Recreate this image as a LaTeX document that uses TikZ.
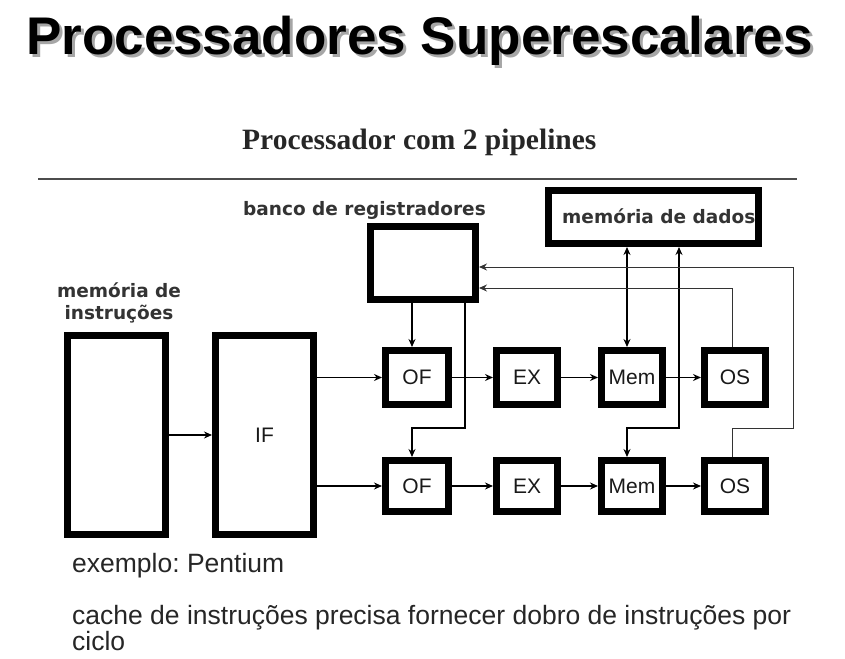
\documentclass[tikz,border=0pt]{standalone}
\usepackage{fontspec}
\setmainfont{Liberation Sans}
\newfontfamily\timesfont{Liberation Serif}
\newfontfamily\verdfont{DejaVu Sans}
\usetikzlibrary{arrows.meta,calc}
\frenchspacing
\begin{document}
\begin{tikzpicture}[x=1pt,y=-1pt,
  blk/.style={draw=black, line width=7pt, fill=white, inner sep=0pt,
    font=\fontsize{21}{21}\selectfont, text=black!90},
  conn/.style={line width=1.4pt, draw=black, -{Stealth[length=8pt,width=7pt]}},
  dconn/.style={line width=1.4pt, draw=black, {Stealth[length=8pt,width=7pt]}-{Stealth[length=8pt,width=7pt]}},
  thconn/.style={line width=1pt, draw=black!80, -{Stealth[length=8pt,width=7pt]}},
  boldlbl/.style={font=\verdfont\bfseries\fontsize{18.5}{22}\selectfont, text=black!80, inner sep=0pt},
  bodytxt/.style={font=\fontsize{26.5}{26}\selectfont, text=black!85, inner sep=0pt, anchor=base west}]
\useasboundingbox (0,0) rectangle (845,658);
\fill[white] (0,0) rectangle (845,658);

% title with shadow (one node)
\node[anchor=base west, inner sep=0, font=\bfseries\fontsize{53}{53}\selectfont] (title) at (26,55)
  {\rlap{\hspace{3pt}\raisebox{-3pt}{\color{black!35}Processadores Superescalares}}Processadores Superescalares};

% subtitle and rule
\node[anchor=base west, inner sep=0, font=\timesfont\bfseries\fontsize{29.5}{29.5}\selectfont, text=black!85] (sub) at (242,149) {Processador com 2 pipelines};
\coordinate (ruleA) at (38,179);
\coordinate (ruleB) at (797,179);
\draw[line width=2pt, black!70] (ruleA) -- (ruleB);

% labels
\node[boldlbl, anchor=base west] (reglbl) at (243,215) {banco de registradores};
\node[boldlbl, align=center, anchor=base] (milbl) at (119,319) {memória de\\instruções};

% boxes
\node[blk, minimum width=98pt, minimum height=199pt] (mi) at (116.5,435) {};
\node[blk, minimum width=98pt, minimum height=199pt] (IF) at (264.5,435) {IF};
\node[blk, minimum width=105pt, minimum height=73pt] (reg) at (423,263) {};
\node[blk, minimum width=210pt, minimum height=53pt] (md) at (653.5,217) {};
\node[boldlbl, anchor=base west] (mdlbl) at (562,223) {memória de dados};

\node[blk, minimum width=63pt, minimum height=54pt] (OF1) at (417,377.5) {OF};
\node[blk, minimum width=61pt, minimum height=54pt] (EX1) at (527,377.5) {EX};
\node[blk, minimum width=61pt, minimum height=54pt] (Mem1) at (632,377.5) {Mem};
\node[blk, minimum width=61pt, minimum height=54pt] (OS1) at (735,377.5) {OS};

\node[blk, minimum width=63pt, minimum height=51pt] (OF2) at (417,486) {OF};
\node[blk, minimum width=61pt, minimum height=51pt] (EX2) at (527,486) {EX};
\node[blk, minimum width=61pt, minimum height=51pt] (Mem2) at (632,486) {Mem};
\node[blk, minimum width=61pt, minimum height=51pt] (OS2) at (735,486) {OS};

% helper coordinates
\coordinate (r1) at (412,0);
\coordinate (r2) at (465,0);
\coordinate (m1) at (627,0);
\coordinate (m2) at (679,0);
\coordinate (o1) at (732,0);
\coordinate (o2) at (793,0);
\coordinate (j1) at (0,428);
\coordinate (w1) at (0,267);
\coordinate (w2) at (0,288);

% main flow
\draw[conn] (mi.east) -- (IF.west);
\draw[conn] (IF.east |- OF1.west) -- (OF1.west);
\draw[conn] (IF.east |- OF2.west) -- (OF2.west);
\draw[conn] (OF1) -- (EX1);
\draw[conn] (EX1) -- (Mem1);
\draw[conn] (Mem1) -- (OS1);
\draw[conn] (OF2) -- (EX2);
\draw[conn] (EX2) -- (Mem2);
\draw[conn] (Mem2) -- (OS2);

% register bank reads
\draw[conn] (reg.south -| r1) -- (OF1.north -| r1);
\draw[conn] (reg.south -| r2) -- (r2 |- j1) -- (r1 |- j1) -- (OF2.north -| r1);

% data memory
\draw[dconn] (md.south -| m1) -- (Mem1.north -| m1);
\draw[dconn] (md.south -| m2) -- (m2 |- j1) -- (m1 |- j1) -- (Mem2.north -| m1);

% write back
\draw[thconn] (OS1.north -| o1) -- (o1 |- w2) -- (reg.east |- w2);
\draw[thconn] (OS2.north -| o1) -- (o1 |- j1) -- (o2 |- j1) -- (o2 |- w1) -- (reg.east |- w1);

% bottom text
\node[bodytxt] (ex) at (72,572) {exemplo: Pentium};
\node[bodytxt] (c1) at (72,624) {cache de instruções precisa fornecer dobro de instruções por};
\node[bodytxt] (c2) at (72,650) {ciclo};
\end{tikzpicture}
\end{document}
